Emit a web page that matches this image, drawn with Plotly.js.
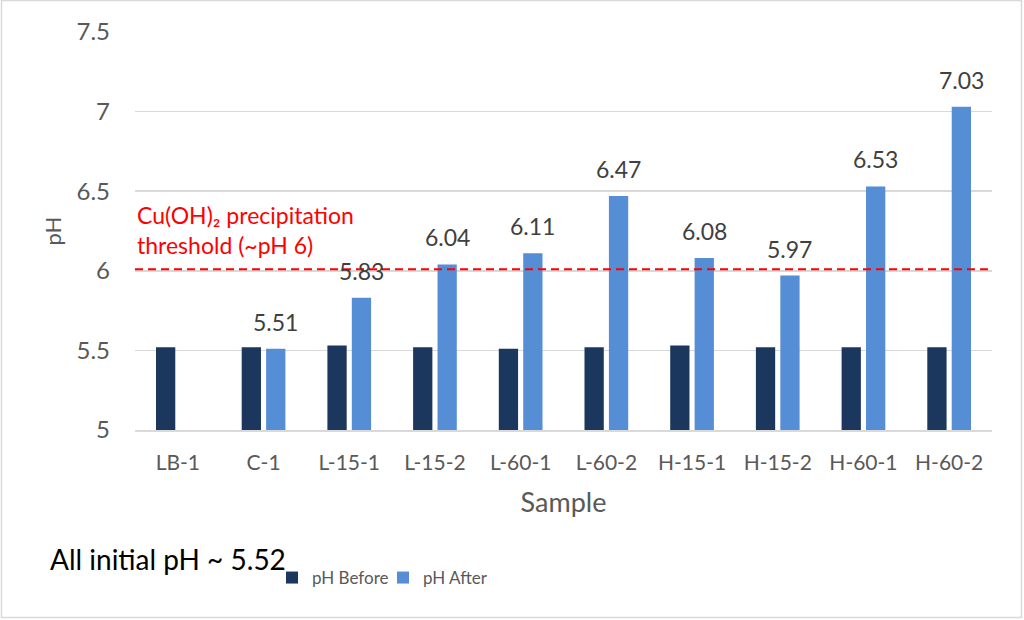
<!DOCTYPE html>
<html lang="en">
<head>
  <meta charset="UTF-8">
  <title>pH Before / After</title>
  <script src="https://cdn.plot.ly/plotly-3.0.1.min.js" charset="utf-8"></script>
  <style>
    body { margin: 0; background: #fff; }
    #chart { width: 1024px; height: 620px; }
  </style>
</head>
<body>
  <div id="chart"></div>
  <script>
    // values
    const samples = ["LB-1", "C-1", "L-15-1", "L-15-2", "L-60-1", "L-60-2", "H-15-1", "H-15-2", "H-60-1", "H-60-2"];
    const phBefore = [5.52, 5.52, 5.53, 5.52, 5.51, 5.52, 5.53, 5.52, 5.52, 5.52];
    const phAfter = [null, 5.51, 5.83, 6.04, 6.11, 6.47, 6.08, 5.97, 6.53, 7.03];
    const threshold = 6.01;
    const yTicks = [5, 5.5, 6, 6.5, 7, 7.5];

    const W = 1024, H = 620;
    const L = 135, R = 32, T = 32, B = 190;
    const grey = "#595959";
    const font = "Lato, 'Open Sans', sans-serif";

    // pixel -> paper helpers for the decorations outside the plot area
    const pw = W - L - R, ph = H - T - B;
    const px = v => (v - L) / pw;
    const py = v => (H - B - v) / ph;

    const trBefore = {
      x: samples, y: phBefore, name: "pH Before", type: "bar",
      marker: {color: "#1B375E"}, width: 0.225, offset: -0.255,
      legend: "legend"
    };
    const trAfter = {
      x: samples, y: phAfter, name: "pH After", type: "bar",
      marker: {color: "#558ED5"}, width: 0.225, offset: 0.03,
      legend: "legend2"
    };

    // data labels above the "after" bars
    const labels = [];
    phAfter.forEach(function (v, i) {
      if (v === null) return;
      labels.push({
        x: i + 0.1425, y: v, xref: "x", yref: "y",
        text: v.toFixed(2), showarrow: false,
        yanchor: "bottom", yshift: 11,
        font: {family: font, size: 23, color: "#404040"}
      });
    });

    labels.push({
      x: 0, y: 6.255, xref: "paper", yref: "y",
      xanchor: "left", yanchor: "middle", align: "left",
      text: "Cu(OH)₂ precipitation<br>threshold (~pH 6)",
      showarrow: false,
      font: {family: font, size: 23, color: "#FF0000"}
    });
    labels.push({
      x: px(48), y: py(559), xref: "paper", yref: "paper",
      xanchor: "left", yanchor: "middle",
      text: "All initial pH ~ 5.52", showarrow: false,
      font: {family: font, size: 28, color: "#000000"}
    });

    const legendBase = {
      orientation: "h", xref: "container", yref: "container",
      y: 1 - 578 / H, xanchor: "left", yanchor: "middle",
      font: {family: font, size: 17, color: grey},
      itemwidth: 30, bgcolor: "rgba(0,0,0,0)"
    };

    const layout = {
      width: W, height: H,
      margin: {l: L, r: R, t: T, b: B},
      paper_bgcolor: "#fff", plot_bgcolor: "#fff",
      font: {family: font, color: grey},
      barmode: "group",
      showlegend: true,
      legend: Object.assign({}, legendBase, {x: 272 / W}),
      legend2: Object.assign({}, legendBase, {x: 383 / W}),
      xaxis: {
        type: "category",
        tickfont: {size: 21, color: grey},
        ticklabelstandoff: 13,
        showline: true, linecolor: "#D9D9D9", linewidth: 1.5,
        showgrid: false, ticks: "",
        title: {text: "Sample", font: {size: 27, color: grey}, standoff: 20}
      },
      yaxis: {
        range: [5, 7.5], tickvals: yTicks,
        tickfont: {size: 24, color: grey},
        ticklabelstandoff: 24,
        gridcolor: "#D9D9D9", gridwidth: 1.5,
        zeroline: false, ticks: "",
        title: {text: "pH", font: {size: 22, color: grey}, standoff: 8}
      },
      shapes: [
        {
          type: "line", xref: "paper", yref: "y",
          x0: 0, x1: 1, y0: threshold, y1: threshold,
          line: {color: "#FF0000", width: 2, dash: "8px,5px"}
        },
        {
          type: "rect", xref: "paper", yref: "paper", layer: "below",
          x0: px(1.5), x1: px(1021.5), y0: py(617.5), y1: py(0.5),
          line: {color: "#D9D9D9", width: 1.5}
        }
      ],
      annotations: labels
    };

    Plotly.newPlot("chart", [trBefore, trAfter], layout, {displayModeBar: false, staticPlot: true});
  </script>
</body>
</html>
